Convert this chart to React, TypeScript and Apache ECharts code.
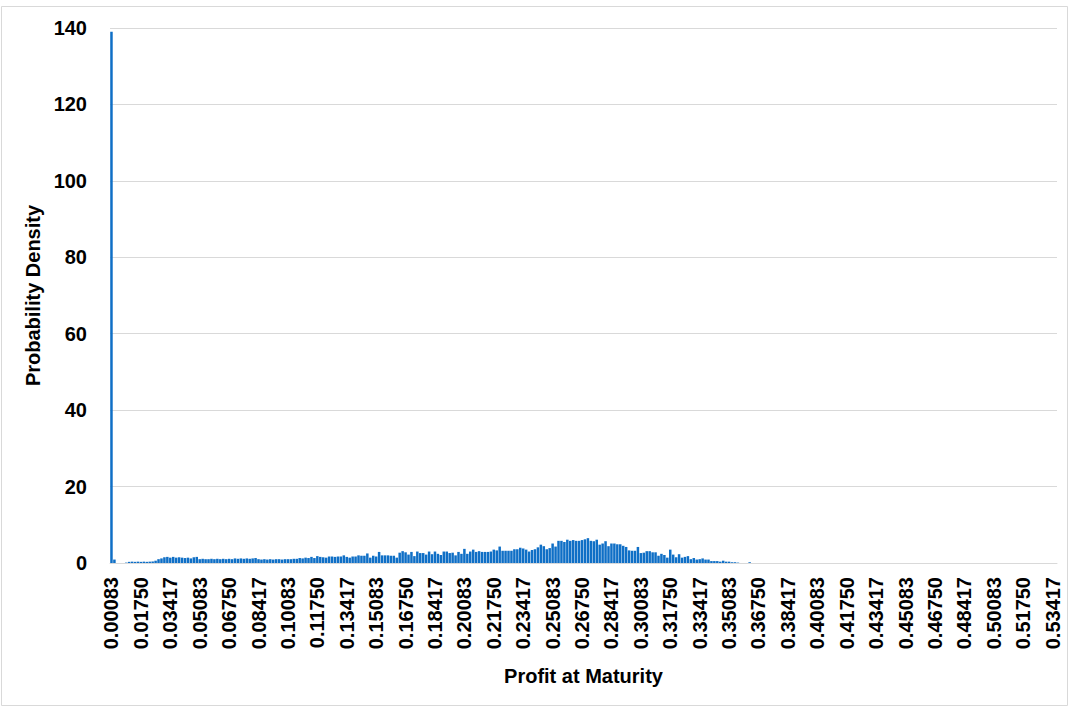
import React, { useEffect, useRef } from "react";
import * as echarts from "echarts";

// Histogram bins: width 1/600, centres at 1/1200 + i/600
const BIN_COUNT = 322;
const categories: string[] = Array.from({ length: BIN_COUNT }, (_, i) =>
  (1 / 1200 + i / 600).toFixed(5)
);

// Probability density per bin
const densityHead: number[] = [
  139, 0.9, 0, 0, 0, 0.1, 0.3, 0.35, 0.3, 0.35,
  0.3, 0.35, 0.3, 0.35, 0.4, 0.6, 1.0, 1.2, 1.5, 1.6,
  1.4, 1.6, 1.4, 1.5, 1.4, 1.3, 1.4, 1.2, 1.5, 1.6,
  1.0, 1.1, 1.0, 1.0, 1.1, 1.0, 1.1, 1.0, 1.1, 1.0,
  1.1, 1.0, 1.2, 1.1, 1.2, 1.1, 1.2, 1.1, 1.2, 1.3,
  1.0, 0.9, 1.0, 0.9, 1.0, 0.9, 1.0, 1.0, 0.9, 1.0,
  1.0, 1.0, 1.1, 1.1, 1.3, 1.2, 1.4, 1.3, 1.6, 1.3,
];
const densityMid: number[] = [
  1.8, 1.6, 1.5, 1.4, 1.7, 1.7, 1.6, 1.7, 1.7, 2.0,
  1.6, 1.4, 1.7, 1.7, 2.0, 1.9, 1.9, 2.5, 1.4, 1.9,
  1.7, 2.9, 2.0, 2.0, 2.0, 1.9, 1.9, 1.4, 2.7, 3.1,
  2.8, 2.2, 2.9, 1.8, 3.0, 2.6, 2.6, 2.2, 3.0, 2.3,
  3.0, 2.4, 2.1, 3.0, 3.0, 2.6, 2.7, 2.0, 2.9, 2.4,
  3.7, 2.4, 3.0, 3.5, 2.9, 3.1, 2.9, 2.9, 2.9, 3.0,
  3.5, 3.3, 4.3, 3.2, 3.2, 3.2, 3.2, 3.6, 3.6, 4.0,
  3.8, 3.5, 3.0, 3.4,
];
const densityTail: number[] = [
  3.6, 4.1, 4.8, 4.4, 3.6, 3.9, 5.1, 4.3, 5.8, 5.8,
  5.5, 6.1, 5.8, 6.0, 5.8, 5.8, 6.0, 6.2, 6.5, 5.8,
  5.7, 6.1, 4.8, 5.1, 5.7, 4.4, 5.1, 5.1, 4.9, 4.9,
  4.5, 4.2, 3.3, 3.2, 3.2, 4.2, 2.6, 2.7, 3.1, 3.1,
  2.8, 2.8, 1.9, 2.4, 2.1, 1.4, 3.5, 2.2, 1.5, 2.3,
  1.4, 1.6, 1.8, 1.0, 1.3, 0.9, 1.0, 1.2, 0.9, 0.9,
  0.5, 0.5, 0.5, 0.35, 0.6, 0.35, 0.35, 0.2, 0.2, 0.1,
  0, 0, 0, 0.2,
];
const density: number[] = [...densityHead, ...densityMid, ...densityTail];

const yTicks = { min: 0, max: 140, interval: 20 };

export default function App() {
  const ref = useRef<HTMLDivElement>(null);

  useEffect(() => {
    document.body.style.margin = "0";
    if (!ref.current) return;
    const chart = echarts.init(ref.current, null, { renderer: "svg" });
    const font = "'Liberation Sans', Arial, sans-serif";
    chart.setOption({
      animation: false,
      backgroundColor: "#ffffff",
      textStyle: { fontFamily: font },
      graphic: [
        {
          type: "rect",
          shape: { x: 1.5, y: 6.5, width: 1066, height: 699 },
          style: { fill: "none", stroke: "#d9d9d9", lineWidth: 1 },
          silent: true,
        },
      ],
      grid: {
        left: 110,
        right: 17,
        top: 28,
        bottom: 145,
        outerBoundsMode: "none",
        containLabel: false,
      },
      xAxis: {
        type: "category",
        data: categories,
        boundaryGap: true,
        name: "Profit at Maturity",
        nameLocation: "middle",
        nameGap: 103,
        nameTextStyle: {
          fontFamily: font,
          fontWeight: "bold",
          fontSize: 20,
          color: "#000",
        },
        axisLine: { show: true, lineStyle: { color: "#d9d9d9", width: 1 } },
        axisTick: { show: false },
        splitLine: { show: false },
        axisLabel: {
          interval: 9,
          rotate: 90,
          margin: 14,
          fontFamily: font,
          fontWeight: "bold",
          fontSize: 20,
          color: "#000",
        },
      },
      yAxis: {
        type: "value",
        min: yTicks.min,
        max: yTicks.max,
        interval: yTicks.interval,
        name: "Probability Density",
        nameLocation: "middle",
        nameGap: 67,
        nameRotate: 90,
        nameTextStyle: {
          fontFamily: font,
          fontWeight: "bold",
          fontSize: 20,
          color: "#000",
        },
        axisLine: { show: false },
        axisTick: { show: false },
        splitLine: { show: true, lineStyle: { color: "#d9d9d9", width: 1 } },
        axisLabel: {
          margin: 23,
          fontFamily: font,
          fontWeight: "bold",
          fontSize: 20,
          color: "#000",
        },
      },
      series: [
        {
          type: "bar",
          data: density,
          barCategoryGap: "15%",
          itemStyle: { color: "#0F6FC6" },
          emphasis: { disabled: true },
        },
      ],
    });
    return () => chart.dispose();
  }, []);

  return <div ref={ref} style={{ width: 1074, height: 708 }} />;
}
